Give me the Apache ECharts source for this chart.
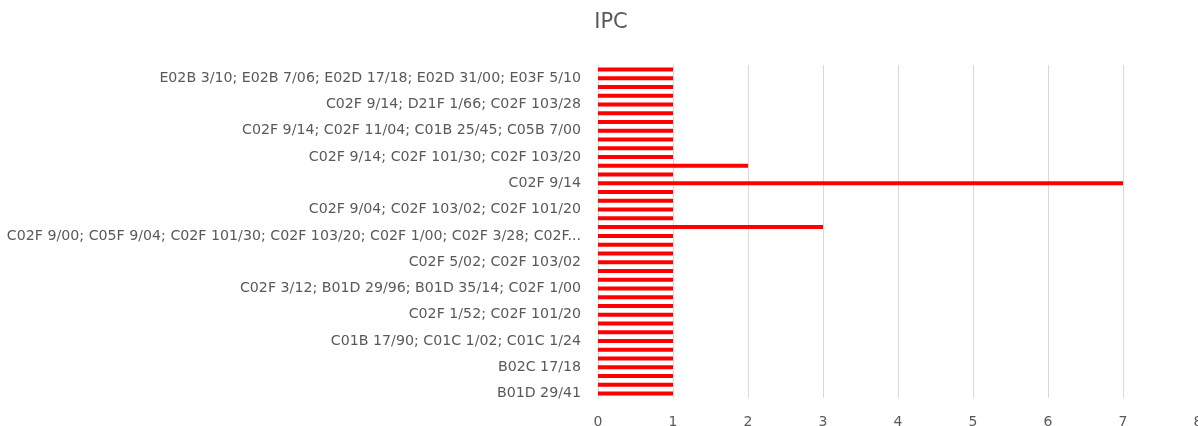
<!DOCTYPE html>
<html>
<head>
<meta charset="utf-8">
<title>IPC</title>
<script src="https://cdn.jsdelivr.net/npm/echarts@6/dist/echarts.min.js"></script>
<style>
  html, body { margin: 0; padding: 0; background: #fff; }
  #chart { width: 1198px; height: 426px; }
</style>
</head>
<body>
<div id="chart"></div>
<script>
// categories listed bottom -> top (as in the source sheet); blank = label not shown
var categories = [
  "B01D 29/41", "", "",
  "B02C 17/18", "", "",
  "C01B 17/90; C01C 1/02; C01C 1/24", "", "",
  "C02F 1/52; C02F 101/20", "", "",
  "C02F 3/12; B01D 29/96; B01D 35/14; C02F 1/00", "", "",
  "C02F 5/02; C02F 103/02", "", "",
  "C02F 9/00; C05F 9/04; C02F 101/30; C02F 103/20; C02F 1/00; C02F 3/28; C02F...", "", "",
  "C02F 9/04; C02F 103/02; C02F 101/20", "", "",
  "C02F 9/14", "", "",
  "C02F 9/14; C02F 101/30; C02F 103/20", "", "",
  "C02F 9/14; C02F 11/04; C01B 25/45; C05B 7/00", "", "",
  "C02F 9/14; D21F 1/66; C02F 103/28", "", "",
  "E02B 3/10; E02B 7/06; E02D 17/18; E02D 31/00; E03F 5/10", ""
];

var counts = [
  1, 1, 1, 1, 1, 1, 1, 1, 1, 1,
  1, 1, 1, 1, 1, 1, 1, 1, 1, 3,
  1, 1, 1, 1, 7, 1, 2, 1, 1, 1,
  1, 1, 1, 1, 1, 1, 1, 1
];

var xTicks = { min: 0, max: 8, step: 1 };

var chart = echarts.init(document.getElementById("chart"));

var textColor = "#595959";
var fontFam = "DejaVu Sans";

var option = {
  backgroundColor: "#ffffff",
  animation: false,
  title: {
    text: "IPC",
    left: 611,
    top: 12,
    padding: 0,
    textAlign: "center",
    textStyle: {
      color: textColor,
      fontFamily: fontFam,
      fontSize: 21,
      fontWeight: "normal",
    },
  },
  grid: {
    left: 598,
    right: 0,
    top: 65,
    bottom: 28,
    outerBoundsMode: "none",
  },
  xAxis: {
    type: "value",
    min: xTicks.min,
    max: xTicks.max,
    interval: xTicks.step,
    axisLine: { show: false },
    axisTick: { show: false },
    splitLine: { lineStyle: { color: "#d9d9d9", width: 1 } },
    axisLabel: {
      color: textColor,
      fontFamily: fontFam,
      fontSize: 14,
      margin: 17,
    },
  },
  yAxis: {
    type: "category",
    data: categories,
    axisLine: { show: true, lineStyle: { color: "#d9d9d9" } },
    axisTick: { show: false },
    axisLabel: {
      interval: 2,
      color: textColor,
      fontFamily: fontFam,
      fontSize: 14.2,
      margin: 17,
    },
  },
  series: [
    {
      type: "bar",
      data: counts,
      barWidth: 4,
      itemStyle: { color: "#ff0000" },
    },
  ],
};

chart.setOption(option);
</script>
</body>
</html>
